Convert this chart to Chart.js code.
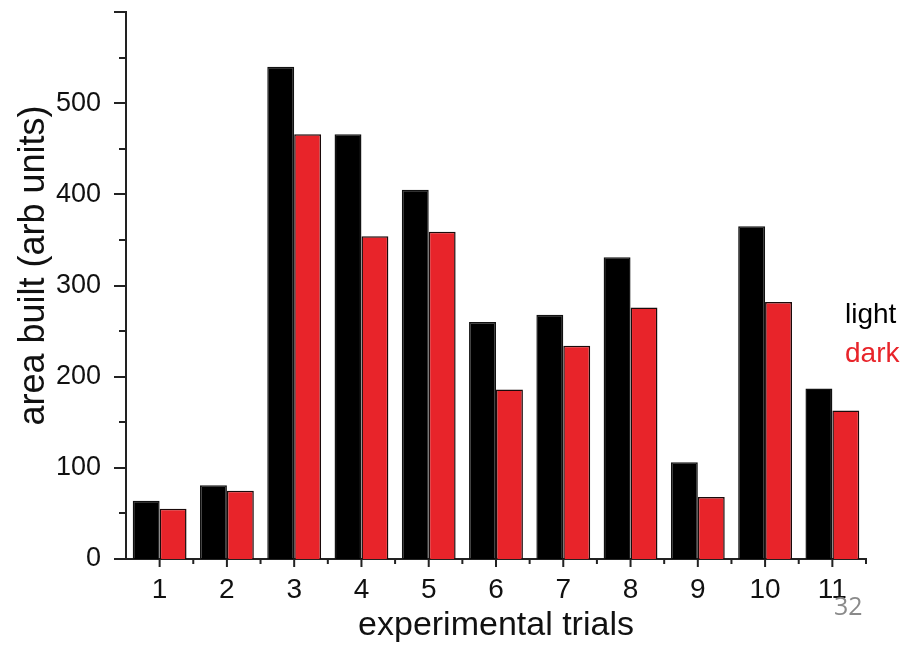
<!DOCTYPE html>
<html>
<head>
<meta charset="utf-8">
<script src="https://cdn.jsdelivr.net/npm/chart.js@4.4.0/dist/chart.umd.min.js"></script>
<style>
  html, body { margin: 0; padding: 0; background: #fff; }
  #wrap { width: 909px; height: 649px; }
</style>
</head>
<body>
<div id="wrap"><canvas id="trialsChart" width="909" height="649"></canvas></div>
<script>
// data
const trials = ['1', '2', '3', '4', '5', '6', '7', '8', '9', '10', '11'];
const lightArea = [64, 81, 540, 466, 405, 260, 268, 331, 106, 365, 187];
const darkArea = [55, 75, 466, 354, 359, 186, 234, 276, 68, 282, 163];
const yTicks = [0, 100, 200, 300, 400, 500];

const red = '#e8242a';
const sans = '"Liberation Sans", Arial, sans-serif';

// tick marks like the origin plot: major + minor, pointing outward
const tickMarks = {
  id: 'tickMarks',
  afterDraw(chart) {
    const ctx = chart.ctx;
    const x = chart.scales.x;
    const y = chart.scales.y;
    ctx.save();
    ctx.strokeStyle = '#222';
    ctx.lineWidth = 2;
    ctx.beginPath();
    for (let v = 0; v <= 600; v += 50) {
      const py = Math.round(y.getPixelForValue(v));
      const len = v % 100 === 0 ? 12 : 7;
      ctx.moveTo(y.right, py);
      ctx.lineTo(y.right - len, py);
    }
    const half = (x.getPixelForValue(1) - x.getPixelForValue(0)) / 2;
    for (let i = 0; i < trials.length; i++) {
      const px = x.getPixelForValue(i);
      ctx.moveTo(px, x.top);
      ctx.lineTo(px, x.top + 8);
      ctx.moveTo(px + half, x.top);
      ctx.lineTo(px + half, x.top + 5);
    }
    ctx.stroke();

    // legend text on the right
    ctx.font = '28px ' + sans;
    ctx.textAlign = 'left';
    ctx.textBaseline = 'alphabetic';
    chart.data.datasets.forEach((ds, i) => {
      ctx.fillStyle = ds.labelColor;
      ctx.fillText(ds.label, 845, 323 + i * 39);
    });

    // slide number
    ctx.font = '25px "Open Sans", sans-serif';
    ctx.fillStyle = '#8a8a8a';
    ctx.fillText('32', 834, 615);
    ctx.restore();
  }
};

const ctx = document.getElementById('trialsChart').getContext('2d');
const chart = new Chart(ctx, {
  type: 'bar',
  data: {
    labels: trials,
    datasets: [{
      label: 'light',
      data: lightArea,
      backgroundColor: '#000',
      borderColor: '#111',
      borderWidth: 1.5,
      labelColor: '#000',
      categoryPercentage: 0.8,
      barPercentage: 1.0
    }, {
      label: 'dark',
      data: darkArea,
      backgroundColor: red,
      borderColor: '#1a0a0a',
      borderWidth: 1.5,
      labelColor: red,
      categoryPercentage: 0.8,
      barPercentage: 1.0
    }]
  },
  options: {
    responsive: false,
    animation: false,
    layout: { padding: { top: 12, right: 43, left: 0, bottom: 0 } },
    plugins: {
      legend: { display: false },
      tooltip: { enabled: false }
    },
    scales: {
      x: {
        offset: true,
        grid: { display: false },
        border: { display: true, color: '#222', width: 2 },
        ticks: {
          color: '#111',
          padding: 6,
          maxRotation: 0,
          font: { family: sans, size: 28 }
        },
        title: {
          display: true,
          text: 'experimental trials',
          color: '#111',
          padding: { top: 0, bottom: 3 },
          font: { family: sans, size: 34 }
        },
        afterFit(scale) { scale.height = 90; }
      },
      y: {
        min: 0,
        max: 600,
        grid: { display: false },
        border: { display: true, color: '#222', width: 2 },
        afterBuildTicks(scale) { scale.ticks = yTicks.map(v => ({ value: v })); },
        ticks: {
          color: '#111',
          padding: 17,
          font: { family: sans, size: 27 }
        },
        title: {
          display: true,
          // leading spaces lift the title a bit, as in the original slide
          text: '\u00a0\u00a0\u00a0\u00a0area built (arb units)',
          color: '#111',
          padding: { top: 12, bottom: 0 },
          font: { family: sans, size: 36 }
        },
        afterFit(scale) {
          scale.width = 126;
          scale.paddingTop = 0;
          scale.paddingBottom = 0;
        }
      }
    }
  },
  plugins: [tickMarks]
});
</script>
</body>
</html>
